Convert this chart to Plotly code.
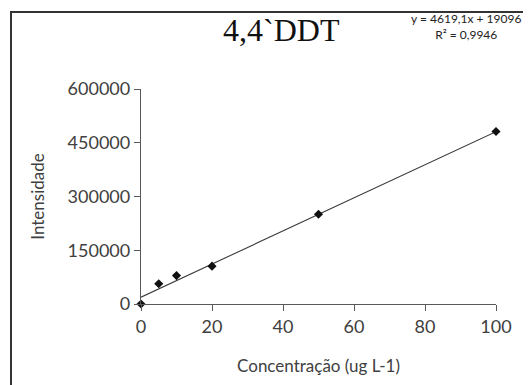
import plotly.graph_objects as go

conc = [0, 5, 10, 20, 50, 100]
intens = [0, 56600, 79200, 105600, 250600, 481300]
slope = 4619.1
intercept = 19096
fit_x = [0, 100]
fit_y = [intercept + slope * v for v in fit_x]
x_ticks = [0, 20, 40, 60, 80, 100]
y_ticks = [0, 150000, 300000, 450000, 600000]

OFF = 8  # page body margin
W, H = 531 - OFF, 385 - OFF
ml, mr, mt, mb = 141 - OFF, 35, 89 - OFF, 81
PW, PH = W - ml - mr, H - mt - mb


def px(xp):
    return (xp - OFF - ml) / PW


def py(yp):
    return (H - mb - (yp - OFF)) / PH


fig = go.Figure()
fig.add_trace(go.Scatter(x=fit_x, y=fit_y, mode="lines",
                         line=dict(color="#3a3a3a", width=1.1), hoverinfo="skip"))
fig.add_trace(go.Scatter(x=conc, y=intens, mode="markers",
                         marker=dict(symbol="diamond", size=7, color="#111111"),
                         cliponaxis=False))

font_ax = "Lato, Calibri, Carlito, sans-serif"
fig.update_layout(
    width=W, height=H,
    margin=dict(l=ml, r=mr, t=mt, b=mb),
    paper_bgcolor="white", plot_bgcolor="white",
    showlegend=False,
    xaxis=dict(range=[0, 100], tickvals=x_ticks, showgrid=False, zeroline=False,
               showline=True, linecolor="#595959", linewidth=1.3,
               ticks="outside", ticklen=6, tickcolor="#595959",
               tickfont=dict(family=font_ax, size=18, color="#404040"),
               title=dict(text="Concentração (ug L-1)", standoff=24,
                          font=dict(family=font_ax, size=17, color="#404040"))),
    yaxis=dict(range=[0, 600000], tickvals=y_ticks, showgrid=False, zeroline=False,
               showline=True, linecolor="#595959", linewidth=1.3,
               ticks="outside", ticklen=6, tickcolor="#595959",
               tickformat="d",
               tickfont=dict(family=font_ax, size=18, color="#404040"),
               title=dict(text="Intensidade", standoff=18,
                          font=dict(family=font_ax, size=17, color="#404040"))),
)

# outer frame (cropped chart border)
fig.add_shape(type="rect", xref="paper", yref="paper",
              x0=px(11), x1=px(560), y0=py(420), y1=py(12),
              line=dict(color="#333333", width=2), layer="below")

fig.add_annotation(xref="paper", yref="paper", x=px(281), y=py(30),
                   text="4,4`DDT", showarrow=False, xanchor="center", yanchor="middle",
                   font=dict(family="Liberation Serif, Times New Roman, serif", size=32, color="#111111"))
fig.add_annotation(xref="paper", yref="paper", x=px(466), y=py(27),
                   text="y = 4619,1x + 19096<br>R² = 0,9946", showarrow=False,
                   xanchor="center", yanchor="middle", align="center",
                   font=dict(family=font_ax, size=12, color="#222222"))

fig.write_html("out.html")
